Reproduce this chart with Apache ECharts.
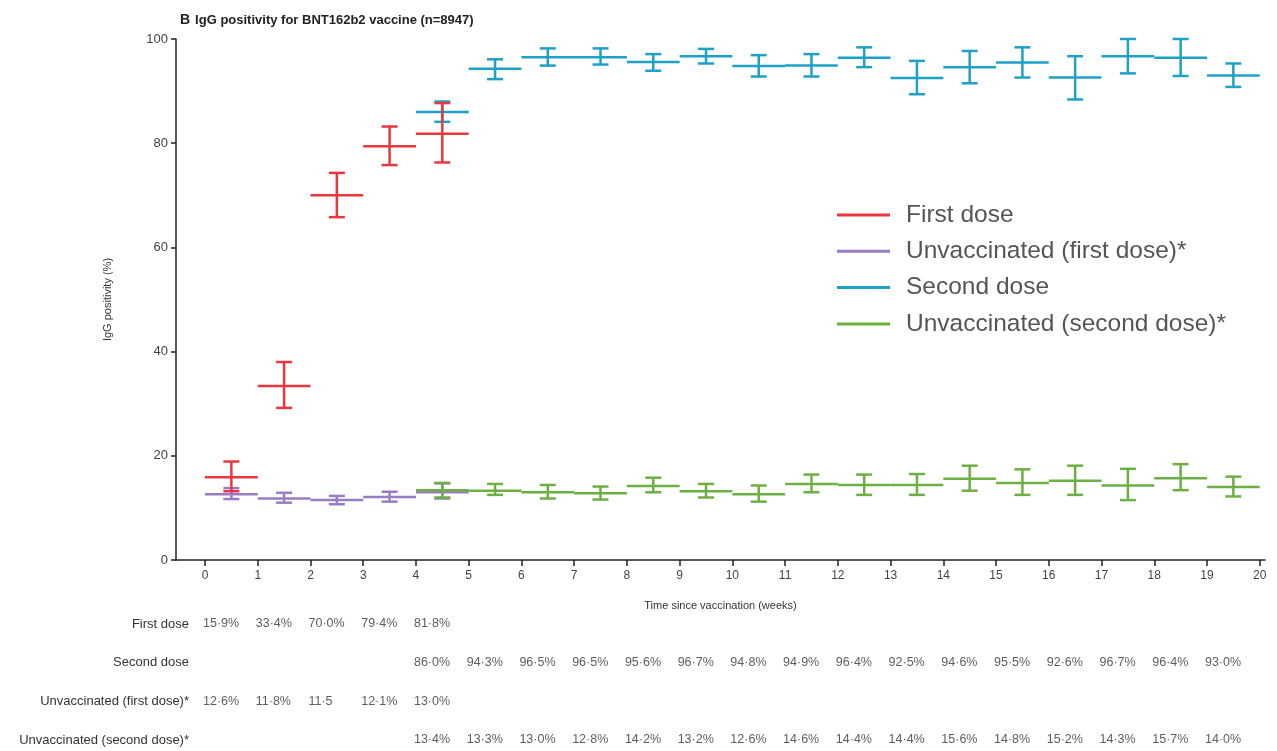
<!DOCTYPE html>
<html>
<head>
<meta charset="utf-8">
<script src="https://cdn.jsdelivr.net/npm/echarts@6/dist/echarts.min.js"></script>
<style>
html, body { margin: 0; padding: 0; background: #fff; }
#chart { width: 1277px; height: 751px; }
</style>
</head>
<body>
<div id="chart"></div>
<script>
// x ticks (weeks since vaccination)
const weekTicks = [0, 1, 2, 3, 4, 5, 6, 7, 8, 9, 10, 11, 12, 13, 14, 15, 16, 17, 18, 19, 20]

// each value covers one week, starting at the week below
const firstDoseWeeks = [0, 1, 2, 3, 4]
const firstDose = [15.9, 33.4, 70.0, 79.4, 81.8]
const firstDoseLow = [13.2, 29.2, 65.8, 75.8, 76.3]
const firstDoseHigh = [18.9, 38.0, 74.3, 83.2, 87.7]

const unvacc1Weeks = [0, 1, 2, 3, 4]
const unvacc1 = [12.6, 11.8, 11.5, 12.1, 13.0]
const unvacc1Low = [11.7, 11.0, 10.7, 11.2, 11.8]
const unvacc1High = [13.8, 12.9, 12.3, 13.1, 14.7]

const secondDoseWeeks = [4, 5, 6, 7, 8, 9, 10, 11, 12, 13, 14, 15, 16, 17, 18, 19]
const secondDose = [86.0, 94.3, 96.5, 96.5, 95.6, 96.7, 94.8, 94.9, 96.4, 92.5, 94.6, 95.5, 92.6, 96.7, 96.4, 93.0]
const secondDoseLow = [84.1, 92.3, 94.9, 95.1, 93.9, 95.3, 92.8, 92.8, 94.6, 89.4, 91.5, 92.6, 88.4, 93.4, 92.9, 90.8]
const secondDoseHigh = [88.0, 96.1, 98.2, 98.2, 97.1, 98.1, 96.9, 97.1, 98.4, 95.8, 97.7, 98.4, 96.7, 100.0, 100.0, 95.3]

const unvacc2Weeks = [4, 5, 6, 7, 8, 9, 10, 11, 12, 13, 14, 15, 16, 17, 18, 19]
const unvacc2 = [13.4, 13.3, 13.0, 12.8, 14.2, 13.2, 12.6, 14.6, 14.4, 14.4, 15.6, 14.8, 15.2, 14.3, 15.7, 14.0]
const unvacc2Low = [12.0, 12.5, 11.8, 11.6, 13.0, 12.0, 11.2, 13.0, 12.5, 12.5, 13.3, 12.5, 12.5, 11.5, 13.4, 12.2]
const unvacc2High = [14.8, 14.6, 14.4, 14.1, 15.8, 14.6, 14.3, 16.4, 16.4, 16.5, 18.1, 17.4, 18.1, 17.5, 18.4, 16.0]

// table rows under the chart
const rowNames = ["First dose", "Second dose", "Unvaccinated (first dose)*", "Unvaccinated (second dose)*"]
const rowTicks = [0, 1, 2, 3]

const FONT = "'Liberation Sans', 'DejaVu Sans', sans-serif"
const chart = echarts.init(document.getElementById("chart"))

function fmt(v) {
  return v.toFixed(1).replace(".", "·") + "%"
}

function toBars(weeks, mid, low, high) {
  return weeks.map((w, i) => [w, mid[i], low[i], high[i]])
}

function toCells(weeks, vals, row) {
  return weeks.map((w, i) => ({ value: [w, row], text: fmt(vals[i]) }))
}

function errorBar(params, api) {
  const start = api.value(0)
  const a = api.coord([start, api.value(1)])
  const b = api.coord([start + 1, api.value(1)])
  const cx = (a[0] + b[0]) / 2
  const top = api.coord([start + 0.5, api.value(3)])[1]
  const bot = api.coord([start + 0.5, api.value(2)])[1]
  const style = { stroke: api.visual("color"), lineWidth: 2.5, fill: null }
  return {
    type: "group",
    children: [
      { type: "line", shape: { x1: a[0], y1: a[1], x2: b[0], y2: b[1] }, style },
      { type: "line", shape: { x1: cx, y1: top, x2: cx, y2: bot }, style },
      { type: "line", shape: { x1: cx - 8, y1: top, x2: cx + 8, y2: top }, style },
      { type: "line", shape: { x1: cx - 8, y1: bot, x2: cx + 8, y2: bot }, style }
    ]
  }
}

function barSeries(name, color, data, z) {
  return {
    name,
    type: "custom",
    xAxisIndex: 0,
    yAxisIndex: 0,
    renderItem: errorBar,
    itemStyle: { color },
    encode: { x: [0], y: [1, 2, 3] },
    data,
    z,
    clip: false
  }
}

const unvacc1Cells = toCells(unvacc1Weeks, unvacc1, 2)
unvacc1Cells[2].text = "11·5"

const tableCells = [
  ...toCells(firstDoseWeeks, firstDose, 0),
  ...toCells(secondDoseWeeks, secondDose, 1),
  ...unvacc1Cells,
  ...toCells(unvacc2Weeks, unvacc2, 3)
]

const option = {
  animation: false,
  backgroundColor: "#fff",
  textStyle: { fontFamily: FONT },
  title: {
    text: "{b|B} {t|IgG positivity for BNT162b2 vaccine (n=8947)}",
    left: 175,
    top: 6,
    textStyle: {
      rich: {
        b: { fontFamily: FONT, fontWeight: "bold", fontSize: 14, color: "#222" },
        t: { fontFamily: FONT, fontWeight: "bold", fontSize: 13, color: "#222" }
      }
    }
  },
  legend: {
    data: ["First dose", "Unvaccinated (first dose)*", "Second dose", "Unvaccinated (second dose)*"],
    orient: "vertical",
    left: 837,
    top: 202,
    padding: 0,
    icon: "rect",
    itemWidth: 53,
    itemHeight: 3,
    itemGap: 10.3,
    textStyle: { fontFamily: FONT, fontSize: 24.5, color: "#555", lineHeight: 26, padding: [0, 0, 0, 11] }
  },
  grid: [
    { left: 176, right: 12, top: 39, bottom: 191 },
    { left: 176, right: 12, top: 604, bottom: 0 }
  ],
  xAxis: [
    {
      type: "value",
      gridIndex: 0,
      min: -0.55,
      max: 20.1,
      splitLine: { show: false },
      axisLine: { onZero: false, lineStyle: { color: "#222", width: 1.5 } },
      axisTick: { customValues: weekTicks, length: 6, lineStyle: { color: "#222", width: 1.5 } },
      axisLabel: { customValues: weekTicks, margin: 10, fontSize: 12, color: "#444", fontFamily: FONT },
      name: "Time since vaccination (weeks)",
      nameLocation: "middle",
      nameGap: 40,
      nameTextStyle: { fontSize: 11, color: "#333", fontFamily: FONT }
    },
    {
      type: "value",
      gridIndex: 1,
      min: -0.55,
      max: 20.1,
      show: false
    }
  ],
  yAxis: [
    {
      type: "value",
      gridIndex: 0,
      min: 0,
      max: 100,
      interval: 20,
      splitLine: { show: false },
      axisLine: { show: true, onZero: false, lineStyle: { color: "#222", width: 1.5 } },
      axisTick: { show: true, length: 5, lineStyle: { color: "#222", width: 1.5 } },
      axisLabel: { margin: 8, fontSize: 13, color: "#444", fontFamily: FONT },
      name: "IgG positivity (%)",
      nameLocation: "middle",
      nameRotate: 90,
      nameGap: 63,
      nameTextStyle: { fontSize: 11, color: "#333", fontFamily: FONT }
    },
    {
      type: "value",
      gridIndex: 1,
      inverse: true,
      min: -0.517,
      max: 3.285,
      axisLine: { show: false, onZero: false },
      axisTick: { show: false },
      splitLine: { show: false },
      axisLabel: {
        customValues: rowTicks,
        formatter: v => rowNames[v],
        margin: -13,
        fontSize: 13,
        color: "#333",
        fontFamily: FONT
      }
    }
  ],
  series: [
    barSeries("Unvaccinated (first dose)*", "#9a7cc4", toBars(unvacc1Weeks, unvacc1, unvacc1Low, unvacc1High), 2),
    barSeries("Second dose", "#1da1c6", toBars(secondDoseWeeks, secondDose, secondDoseLow, secondDoseHigh), 3),
    barSeries("First dose", "#e8383d", toBars(firstDoseWeeks, firstDose, firstDoseLow, firstDoseHigh), 4),
    barSeries("Unvaccinated (second dose)*", "#6cb043", toBars(unvacc2Weeks, unvacc2, unvacc2Low, unvacc2High), 5),
    {
      type: "scatter",
      xAxisIndex: 1,
      yAxisIndex: 1,
      symbolSize: 0,
      silent: true,
      data: tableCells,
      label: {
        show: true,
        position: "right",
        distance: -2,
        formatter: p => p.data.text,
        fontSize: 12.5,
        color: "#333",
        fontFamily: FONT
      }
    }
  ]
}

chart.setOption(option)
</script>
</body>
</html>
